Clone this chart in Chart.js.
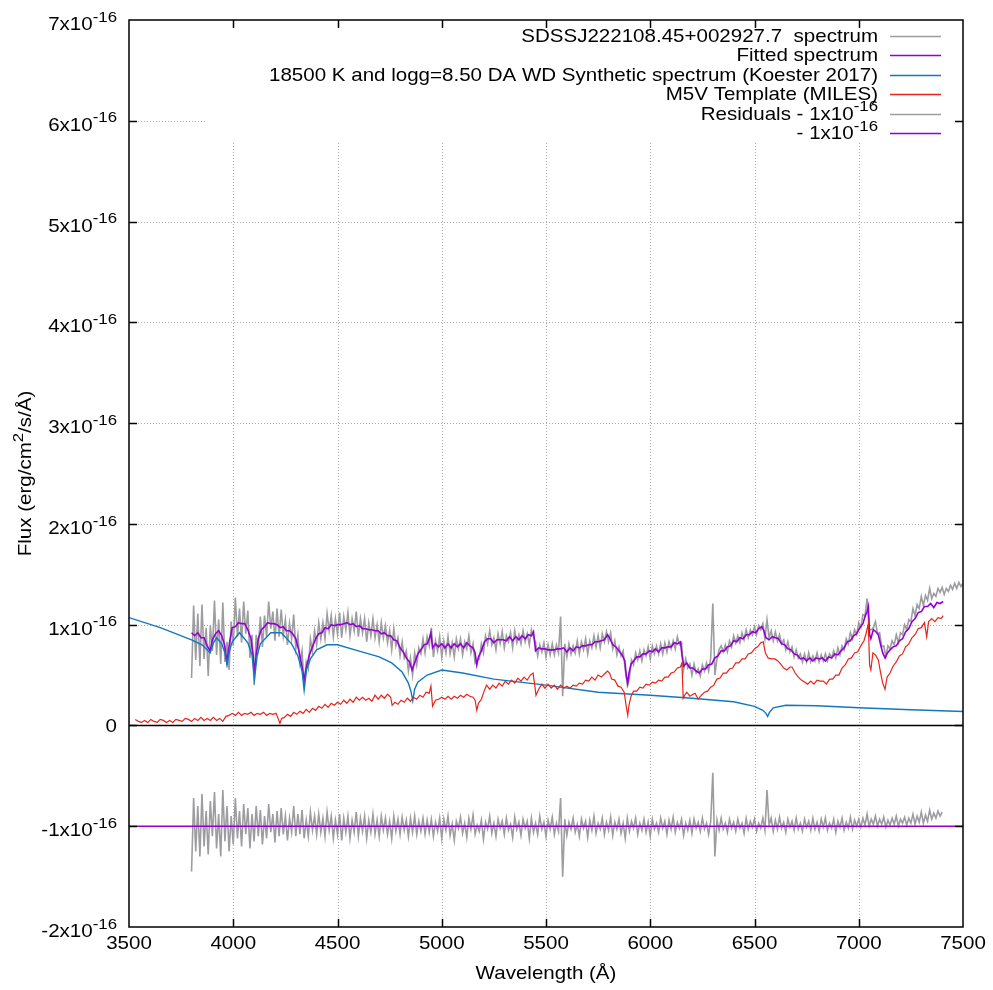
<!DOCTYPE html>
<html>
<head>
<meta charset="utf-8">
<script src="https://cdn.jsdelivr.net/npm/chart.js@4.4.0/dist/chart.umd.min.js"></script>
<style>
  html, body { margin: 0; padding: 0; background: #fff; }
  #wrap { width: 993px; height: 990px; }
</style>
</head>
<body>
<div id="wrap"><canvas id="spec" width="993" height="990"></canvas></div>
<script>
// flux values are in units of 1e-16 erg/cm2/s/A
const xTicks = [3500, 4000, 4500, 5000, 5500, 6000, 6500, 7000, 7500];
const yTicks = [-2, -1, 0, 1, 2, 3, 4, 5, 6, 7];

const legendLabels = [
  [{t: 'SDSSJ222108.45+002927.7  spectrum'}],
  [{t: 'Fitted spectrum'}],
  [{t: '18500 K and logg=8.50 DA WD Synthetic spectrum (Koester 2017)'}],
  [{t: 'M5V Template (MILES)'}],
  [{t: 'Residuals - 1x10'}, {t: '-16', sup: true}],
  [{t: ' - 1x10'}, {t: '-16', sup: true}]
];

// observed spectrum, 3800..7500 A every 10 A
const obsStart = 3800, obsStep = 10;
const obsFlux = [
  0.47,1.19,0.65,1.11,0.59,1.20,0.66,0.97,0.49,0.99,
  0.74,1.24,0.70,1.05,0.61,1.22,0.63,0.83,0.55,1.03,
  0.79,1.27,0.88,1.16,0.82,1.23,0.91,1.14,0.67,0.90,
  0.40,0.90,0.76,1.08,0.78,1.09,0.88,1.23,0.96,1.13,
  0.84,1.16,0.88,1.15,0.89,1.05,0.80,1.01,0.86,1.10,
  0.76,0.90,0.62,0.74,0.38,0.63,0.56,0.86,0.74,0.94,
  0.80,1.02,0.86,1.02,0.86,1.11,0.94,1.09,0.88,1.06,
  0.91,1.12,0.87,1.08,0.95,1.12,0.89,1.06,0.94,1.13,
  0.88,1.06,0.92,1.06,0.83,1.02,0.89,1.06,0.87,1.00,
  0.83,1.02,0.87,0.99,0.82,0.94,0.75,0.96,0.79,0.87,
  0.69,0.83,0.67,0.74,0.54,0.67,0.50,0.72,0.60,0.77,
  0.71,0.86,0.72,0.88,0.79,0.97,0.68,0.84,0.74,0.88,
  0.68,0.84,0.72,0.88,0.71,0.82,0.68,0.86,0.76,0.86,
  0.70,0.83,0.76,0.89,0.72,0.81,0.62,0.65,0.66,0.81,
  0.72,0.89,0.81,0.94,0.80,0.87,0.75,0.91,0.81,0.93,
  0.77,0.89,0.83,0.92,0.77,0.94,0.82,0.90,0.81,0.94,
  0.83,0.91,0.80,0.95,0.88,0.82,0.69,0.80,0.73,0.82,
  0.68,0.80,0.70,0.81,0.70,0.80,0.72,1.08,0.29,0.81,
  0.68,0.81,0.71,0.79,0.72,0.84,0.71,0.83,0.75,0.86,
  0.71,0.84,0.77,0.89,0.78,0.89,0.77,0.91,0.83,0.93,
  0.83,0.92,0.76,0.84,0.70,0.78,0.69,0.74,0.55,0.40,
  0.47,0.65,0.60,0.72,0.65,0.74,0.64,0.75,0.69,0.78,
  0.66,0.79,0.71,0.79,0.71,0.81,0.71,0.82,0.73,0.83,
  0.76,0.84,0.76,0.88,0.80,0.82,0.55,0.66,0.57,0.61,
  0.50,0.61,0.52,0.56,0.49,0.60,0.54,0.62,0.54,0.67,
  1.21,0.50,0.66,0.75,0.79,0.73,0.80,0.73,0.84,0.78,
  0.89,0.82,0.89,0.82,0.92,0.85,0.95,0.87,0.95,0.90,
  0.98,0.90,0.99,0.95,1.01,0.86,1.05,0.87,0.94,0.84,
  0.93,0.84,0.90,0.81,0.85,0.75,0.83,0.73,0.78,0.68,
  0.75,0.67,0.71,0.63,0.71,0.63,0.72,0.63,0.69,0.64,
  0.72,0.63,0.70,0.64,0.71,0.64,0.71,0.67,0.74,0.67,
  0.77,0.70,0.79,0.75,0.86,0.81,0.92,0.86,0.95,0.90,
  1.02,0.97,1.10,1.09,1.26,0.95,0.95,0.97,1.03,0.91,
  0.92,0.78,0.79,0.68,0.79,0.76,0.84,0.80,0.90,0.82,
  0.92,0.90,1.00,0.95,1.05,1.03,1.16,1.09,1.20,1.16,
  1.28,1.19,1.29,1.24,1.36,1.26,1.31,1.28,1.36,1.32,
  1.37,1.30,1.36,1.33,1.39,1.35,1.41,1.36,1.42,1.38,
  1.41
];

// residuals shifted by -1, 3800..7400 A every 10 A
const resStart = 3800, resStep = 10;
const resFlux = [
  -1.45,-0.72,-1.25,-0.80,-1.30,-0.68,-1.20,-0.85,-1.28,-0.75,
  -1.10,-0.66,-1.22,-0.88,-1.30,-0.64,-1.15,-0.80,-1.25,-0.90,
  -1.18,-0.72,-1.12,-0.85,-1.20,-0.78,-1.08,-0.82,-1.22,-0.88,
  -1.15,-0.80,-1.10,-0.84,-1.18,-0.90,-1.12,-0.78,-1.06,-0.88,
  -1.16,-0.85,-1.10,-0.82,-1.08,-0.90,-1.14,-0.92,-1.06,-0.80,
  -1.10,-0.88,-1.08,-0.84,-1.12,-0.94,-1.10,-0.86,-1.04,-0.90,
  -1.08,-0.88,-1.06,-0.92,-1.10,-0.86,-1.04,-0.90,-1.12,-0.94,
  -1.08,-0.88,-1.14,-0.92,-1.06,-0.90,-1.12,-0.94,-1.06,-0.86,
  -1.10,-0.92,-1.05,-0.90,-1.12,-0.94,-1.06,-0.88,-1.08,-0.94,
  -1.10,-0.90,-1.04,-0.92,-1.08,-0.95,-1.12,-0.90,-1.05,-0.93,
  -1.08,-0.91,-1.04,-0.94,-1.10,-0.92,-1.06,-0.90,-1.08,-0.95,
  -1.05,-0.92,-1.08,-0.94,-1.06,-0.93,-1.10,-0.96,-1.05,-0.92,
  -1.12,-0.93,-1.04,-0.90,-1.09,-0.98,-1.14,-0.95,-1.02,-0.91,
  -1.07,-0.97,-1.11,-0.92,-1.03,-0.89,-1.08,-0.99,-1.05,-0.94,
  -1.13,-0.96,-1.03,-0.90,-1.07,-0.97,-1.10,-0.93,-1.02,-0.95,
  -1.08,-0.92,-1.04,-0.98,-1.11,-0.91,-1.03,-0.96,-1.09,-0.93,
  -1.02,-0.95,-1.12,-0.92,-1.06,-0.97,-1.08,-0.90,-1.03,-0.96,
  -1.10,-0.94,-1.03,-0.91,-1.08,-0.97,-1.05,-0.72,-1.50,-0.93,
  -1.09,-0.96,-1.03,-0.92,-1.06,-0.98,-1.10,-0.93,-1.02,-0.95,
  -1.11,-0.94,-1.04,-0.90,-1.07,-0.97,-1.03,-0.92,-1.08,-0.96,
  -1.04,-0.91,-1.09,-0.96,-1.03,-0.93,-1.07,-0.97,-1.12,-0.92,
  -1.05,-0.95,-1.02,-0.92,-1.08,-0.97,-1.04,-0.93,-1.06,-0.96,
  -1.10,-0.93,-1.03,-0.97,-1.06,-0.92,-1.02,-0.95,-1.08,-0.94,
  -1.03,-0.91,-1.06,-0.96,-1.02,-0.93,-1.09,-0.97,-1.04,-0.94,
  -1.07,-0.93,-1.02,-0.96,-1.05,-0.92,-1.03,-0.97,-1.08,-0.95,
  -0.47,-1.30,-0.94,-1.04,-0.92,-1.03,-0.97,-1.06,-0.93,-1.02,
  -0.96,-1.05,-0.93,-1.02,-0.97,-1.07,-0.92,-1.03,-0.95,-1.01,
  -0.93,-1.05,-0.97,-1.02,-0.92,-1.04,-0.64,-0.99,-0.92,-1.05,
  -0.94,-1.03,-0.91,-1.02,-0.96,-1.06,-0.93,-1.01,-0.95,-1.04,
  -0.92,-1.03,-0.97,-1.05,-0.93,-1.01,-0.95,-1.04,-0.92,-1.03,
  -0.96,-1.05,-0.93,-1.01,-0.92,-1.04,-0.97,-1.02,-0.93,-1.06,
  -0.95,-1.01,-0.92,-1.04,-0.96,-1.02,-0.91,-1.03,-0.94,-1.00,
  -0.93,-1.01,-0.92,-0.99,-0.88,-1.00,-0.93,-0.98,-0.90,-1.00,
  -0.93,-0.98,-0.91,-1.01,-0.94,-0.99,-0.92,-0.98,-0.90,-1.00,
  -0.93,-0.97,-0.91,-0.99,-0.92,-0.97,-0.88,-0.98,-0.90,-0.96,
  -0.86,-0.97,-0.89,-0.95,-0.84,-0.93,-0.87,-0.92,-0.85,-0.90,
  -0.86
];

// fitted spectrum (WD + M dwarf)
const fitted = [
  [3800,0.92],[3815,0.89],[3830,0.92],[3845,0.87],[3860,0.87],[3875,0.79],[3889,0.74],[3900,0.85],
  [3915,0.91],[3930,0.94],[3945,0.89],[3958,0.80],[3970,0.63],[3982,0.82],[3995,0.97],[4010,0.98],
  [4025,1.02],[4040,1.01],[4055,1.01],[4070,0.95],[4085,0.86],[4095,0.70],[4102,0.51],[4110,0.70],
  [4120,0.86],[4135,0.95],[4150,0.98],[4165,1.02],[4180,1.01],[4195,1.01],[4210,1.00],[4225,0.97],
  [4240,0.98],[4255,0.94],[4270,0.94],[4285,0.91],[4300,0.86],[4315,0.74],[4330,0.58],[4340,0.45],
  [4350,0.57],[4365,0.70],[4380,0.78],[4395,0.86],[4410,0.91],[4425,0.92],[4440,0.97],[4455,0.96],
  [4470,1.00],[4485,0.99],[4500,1.00],[4515,1.00],[4530,1.01],[4545,1.02],[4560,1.00],[4575,1.01],
  [4590,0.98],[4605,0.99],[4620,0.96],[4635,0.96],[4650,0.95],[4665,0.95],[4680,0.94],[4695,0.94],
  [4710,0.91],[4725,0.92],[4740,0.89],[4755,0.89],[4770,0.85],[4785,0.84],[4800,0.77],[4815,0.73],
  [4830,0.67],[4845,0.63],[4858,0.55],[4870,0.62],[4885,0.71],[4900,0.75],[4915,0.80],[4930,0.81],
  [4940,0.86],[4948,0.92],[4956,0.77],[4970,0.81],[4985,0.78],[5000,0.81],[5015,0.77],[5030,0.81],
  [5045,0.77],[5060,0.81],[5075,0.78],[5090,0.81],[5105,0.77],[5120,0.82],[5135,0.79],[5150,0.77],
  [5160,0.72],[5168,0.60],[5176,0.68],[5190,0.74],[5205,0.83],[5220,0.86],[5235,0.86],[5250,0.82],
  [5265,0.85],[5280,0.85],[5295,0.85],[5310,0.84],[5325,0.88],[5340,0.84],[5355,0.88],[5370,0.85],
  [5385,0.89],[5400,0.86],[5415,0.90],[5430,0.89],[5440,0.93],[5450,0.74],[5465,0.77],[5480,0.76],
  [5495,0.76],[5510,0.75],[5525,0.75],[5540,0.75],[5555,0.76],[5570,0.76],[5585,0.77],[5600,0.73],
  [5615,0.77],[5630,0.74],[5645,0.78],[5660,0.77],[5675,0.79],[5690,0.79],[5705,0.80],[5720,0.80],
  [5735,0.83],[5750,0.83],[5765,0.84],[5780,0.85],[5795,0.90],[5805,0.87],[5820,0.80],[5835,0.78],
  [5850,0.74],[5865,0.70],[5878,0.64],[5885,0.50],[5892,0.42],[5898,0.52],[5908,0.61],[5920,0.64],
  [5935,0.68],[5950,0.68],[5965,0.71],[5980,0.71],[5995,0.74],[6010,0.73],[6025,0.76],[6040,0.73],
  [6055,0.77],[6070,0.77],[6085,0.78],[6100,0.78],[6115,0.82],[6130,0.81],[6145,0.83],[6152,0.70],
  [6160,0.59],[6175,0.62],[6190,0.57],[6205,0.57],[6220,0.54],[6235,0.52],[6250,0.56],[6265,0.56],
  [6280,0.60],[6295,0.61],[6310,0.67],[6325,0.69],[6340,0.74],[6355,0.74],[6370,0.78],[6385,0.79],
  [6400,0.84],[6415,0.83],[6430,0.87],[6445,0.86],[6460,0.90],[6475,0.90],[6490,0.93],[6505,0.92],
  [6520,0.96],[6535,0.98],[6545,0.94],[6555,0.87],[6570,0.85],[6585,0.88],[6600,0.87],[6615,0.86],
  [6630,0.81],[6645,0.80],[6660,0.76],[6675,0.75],[6690,0.71],[6705,0.70],[6720,0.66],[6735,0.67],
  [6750,0.64],[6765,0.67],[6780,0.64],[6795,0.67],[6810,0.66],[6825,0.67],[6840,0.64],[6855,0.68],
  [6870,0.67],[6885,0.71],[6900,0.70],[6915,0.74],[6930,0.77],[6945,0.83],[6960,0.84],[6975,0.89],
  [6990,0.91],[7005,0.97],[7020,1.01],[7030,1.08],[7040,1.13],[7046,1.18],[7052,0.90],[7058,0.86],
  [7070,0.95],[7082,0.93],[7094,0.90],[7105,0.80],[7115,0.72],[7126,0.67],[7138,0.72],[7150,0.75],
  [7165,0.78],[7180,0.79],[7195,0.84],[7210,0.86],[7225,0.93],[7240,0.96],[7255,1.03],[7270,1.06],
  [7285,1.12],[7300,1.13],[7315,1.18],[7330,1.18],[7345,1.21],[7360,1.17],[7375,1.22],[7390,1.21],
  [7405,1.23]
];

// DA white dwarf model (Koester 2017)
const whiteDwarf = [
  [3500,1.07],[3650,0.97],[3800,0.85],[3850,0.80],[3870,0.76],[3889,0.72],[3905,0.82],[3920,0.87],
  [3945,0.81],[3960,0.72],[3970,0.60],[3982,0.74],[3995,0.83],[4030,0.92],[4070,0.82],[4090,0.70],
  [4102,0.46],[4115,0.70],[4130,0.81],[4180,0.92],[4230,0.92],[4280,0.81],[4310,0.69],[4330,0.54],
  [4340,0.35],[4352,0.56],[4370,0.66],[4400,0.75],[4450,0.80],[4500,0.80],[4600,0.74],[4700,0.68],
  [4760,0.62],[4810,0.53],[4840,0.42],[4852,0.34],[4861,0.245],[4870,0.36],[4885,0.43],[4930,0.50],
  [5000,0.55],[5100,0.52],[5250,0.46],[5500,0.40],[5750,0.33],[6000,0.30],[6200,0.27],[6400,0.235],
  [6500,0.19],[6540,0.15],[6555,0.12],[6563,0.09],[6572,0.13],[6590,0.175],[6650,0.20],[6800,0.195],
  [7000,0.175],[7250,0.155],[7500,0.138]
];

// M5V template (MILES)
const mDwarf = [
  [3530,0.06],[3545,0.04],[3560,0.03],[3575,0.05],[3590,0.03],[3605,0.06],[3620,0.04],[3635,0.03],
  [3650,0.06],[3665,0.05],[3680,0.03],[3695,0.05],[3710,0.03],[3725,0.06],[3740,0.05],[3755,0.04],
  [3770,0.07],[3785,0.06],[3800,0.04],[3815,0.07],[3830,0.05],[3845,0.08],[3860,0.05],[3875,0.07],
  [3890,0.05],[3905,0.08],[3920,0.05],[3935,0.07],[3950,0.04],[3965,0.09],[3980,0.10],[3995,0.12],
  [4010,0.10],[4025,0.13],[4040,0.10],[4055,0.12],[4070,0.11],[4085,0.13],[4100,0.10],[4115,0.12],
  [4130,0.11],[4145,0.13],[4160,0.10],[4175,0.12],[4190,0.11],[4205,0.12],[4215,0.07],[4224,0.02],
  [4232,0.07],[4245,0.08],[4260,0.11],[4275,0.09],[4290,0.13],[4305,0.11],[4320,0.14],[4335,0.12],
  [4350,0.16],[4365,0.13],[4380,0.17],[4395,0.15],[4410,0.19],[4425,0.17],[4440,0.21],[4455,0.18],
  [4470,0.22],[4485,0.20],[4500,0.23],[4515,0.21],[4530,0.25],[4545,0.22],[4560,0.26],[4575,0.23],
  [4590,0.28],[4605,0.25],[4620,0.28],[4635,0.25],[4650,0.27],[4665,0.24],[4680,0.30],[4695,0.26],
  [4710,0.30],[4725,0.27],[4740,0.31],[4755,0.28],[4762,0.20],[4775,0.23],[4790,0.21],[4805,0.25],
  [4820,0.23],[4835,0.27],[4850,0.24],[4865,0.28],[4880,0.26],[4895,0.30],[4910,0.28],[4925,0.33],
  [4940,0.32],[4948,0.39],[4956,0.19],[4970,0.25],[4985,0.26],[5000,0.28],[5015,0.26],[5030,0.29],
  [5045,0.26],[5060,0.29],[5075,0.27],[5090,0.30],[5105,0.28],[5120,0.31],[5135,0.29],[5150,0.28],
  [5160,0.25],[5168,0.15],[5176,0.22],[5190,0.26],[5205,0.35],[5215,0.40],[5230,0.36],[5245,0.40],
  [5260,0.37],[5275,0.42],[5290,0.39],[5305,0.44],[5320,0.41],[5335,0.45],[5350,0.42],[5365,0.47],
  [5380,0.44],[5395,0.48],[5410,0.45],[5425,0.50],[5438,0.52],[5446,0.40],[5452,0.30],[5465,0.36],
  [5480,0.41],[5495,0.37],[5510,0.41],[5525,0.37],[5540,0.40],[5555,0.36],[5570,0.40],[5585,0.37],
  [5600,0.39],[5615,0.37],[5630,0.40],[5645,0.39],[5660,0.42],[5675,0.41],[5690,0.45],[5705,0.44],
  [5720,0.48],[5735,0.45],[5750,0.50],[5765,0.48],[5780,0.51],[5795,0.54],[5805,0.52],[5815,0.46],
  [5830,0.45],[5845,0.39],[5860,0.38],[5875,0.33],[5884,0.20],[5892,0.10],[5898,0.20],[5908,0.29],
  [5920,0.34],[5935,0.34],[5950,0.38],[5965,0.37],[5980,0.41],[5995,0.40],[6010,0.43],[6025,0.42],
  [6040,0.45],[6055,0.44],[6070,0.48],[6085,0.48],[6100,0.52],[6115,0.53],[6130,0.57],[6145,0.58],
  [6152,0.62],[6158,0.27],[6165,0.30],[6175,0.33],[6190,0.29],[6205,0.31],[6215,0.32],[6230,0.26],
  [6245,0.30],[6260,0.33],[6275,0.34],[6290,0.38],[6305,0.40],[6320,0.46],[6335,0.47],[6350,0.52],
  [6365,0.52],[6380,0.56],[6395,0.57],[6410,0.62],[6425,0.62],[6440,0.66],[6455,0.66],[6470,0.71],
  [6485,0.72],[6500,0.76],[6515,0.78],[6530,0.82],[6542,0.83],[6552,0.72],[6565,0.67],[6580,0.66],
  [6598,0.66],[6612,0.64],[6625,0.61],[6640,0.57],[6655,0.55],[6670,0.58],[6680,0.58],[6695,0.52],
  [6710,0.48],[6725,0.45],[6740,0.43],[6755,0.41],[6770,0.44],[6785,0.41],[6800,0.45],[6815,0.44],
  [6830,0.44],[6845,0.41],[6860,0.46],[6875,0.46],[6890,0.50],[6905,0.50],[6920,0.57],[6935,0.60],
  [6950,0.66],[6965,0.67],[6980,0.72],[6995,0.73],[7010,0.79],[7025,0.84],[7035,0.91],[7046,1.01],
  [7052,0.60],[7058,0.55],[7068,0.72],[7080,0.70],[7094,0.65],[7105,0.52],[7115,0.42],[7126,0.36],
  [7136,0.48],[7150,0.52],[7165,0.59],[7180,0.63],[7195,0.69],[7210,0.71],[7225,0.78],[7240,0.81],
  [7255,0.87],[7270,0.90],[7285,0.96],[7300,0.97],[7315,1.02],[7326,0.88],[7335,1.03],[7350,1.06],
  [7365,1.03],[7380,1.07],[7395,1.06],[7405,1.09]
];

// zero line of the residual panel
const residualZero = [[3500, -1], [7500, -1]];

const FONT = '"Liberation Sans", Arial, sans-serif';
const FS = 18.5;    // base font size
const SX = 1.11;    // horizontal stretch of the lettering
const KEY = { left: 206, bottom: 142, textRight: 878, lineFrom: 890, lineTo: 941, top: 36, gap: 19.4 };

const GRAY = '#9d9da1', PURPLE = '#9400d3', BLUE = '#1278bd', RED = '#e8231a';

const pts = arr => arr.map(p => ({x: p[0], y: p[1]}));
const grid = (start, step, arr) => arr.map((v, i) => ({x: start + i * step, y: v}));

function richWidth(ctx, parts, size) {
  let w = 0;
  parts.forEach(p => {
    ctx.font = (p.sup ? size * 0.82 : size) + 'px ' + FONT;
    w += ctx.measureText(p.t).width * SX;
  });
  return w;
}

function drawRich(ctx, parts, x, y, align, size) {
  const w = richWidth(ctx, parts, size);
  let cx = align === 'right' ? x - w : align === 'center' ? x - w / 2 : x;
  parts.forEach(p => {
    const fs = p.sup ? size * 0.82 : size;
    ctx.font = fs + 'px ' + FONT;
    const pw = ctx.measureText(p.t).width * SX;
    ctx.save();
    ctx.translate(cx, y - (p.sup ? size * 0.45 : 0));
    ctx.scale(SX, 1);
    ctx.textAlign = 'left'; ctx.textBaseline = 'alphabetic';
    ctx.fillText(p.t, 0, 0);
    ctx.restore();
    cx += pw;
  });
}

const frame = {
  id: 'frame',
  beforeDatasetsDraw(chart) {
    const {ctx, chartArea: a, scales: {x, y}} = chart;
    ctx.save();
    ctx.strokeStyle = '#a9a9a9'; ctx.lineWidth = 1; ctx.setLineDash([1, 2]);
    xTicks.slice(1, -1).forEach(v => {
      const px = Math.round(x.getPixelForValue(v)) + 0.5;
      ctx.beginPath(); ctx.moveTo(px, a.top); ctx.lineTo(px, a.bottom); ctx.stroke();
    });
    yTicks.slice(1, -1).forEach(v => {
      if (v === 0) return;
      const py = Math.round(y.getPixelForValue(v)) + 0.5;
      ctx.beginPath(); ctx.moveTo(a.left, py); ctx.lineTo(a.right, py); ctx.stroke();
    });
    ctx.setLineDash([]);
    // opaque key box
    ctx.fillStyle = '#fff';
    ctx.fillRect(KEY.left, a.top + 1, a.right - KEY.left - 1, KEY.bottom - a.top);
    // zero axis
    const y0 = Math.round(y.getPixelForValue(0)) + 0.5;
    ctx.strokeStyle = '#000'; ctx.lineWidth = 1.5;
    ctx.beginPath(); ctx.moveTo(a.left, y0); ctx.lineTo(a.right, y0); ctx.stroke();
    ctx.restore();
  },
  afterDatasetsDraw(chart) {
    const {ctx, chartArea: a, scales: {x, y}} = chart;
    ctx.save();
    ctx.strokeStyle = '#000'; ctx.lineWidth = 1.5;
    ctx.strokeRect(a.left, a.top, a.right - a.left, a.bottom - a.top);
    const T = 8;
    ctx.beginPath();
    xTicks.slice(1, -1).forEach(v => {
      const px = Math.round(x.getPixelForValue(v)) + 0.5;
      ctx.moveTo(px, a.bottom); ctx.lineTo(px, a.bottom - T);
      ctx.moveTo(px, a.top); ctx.lineTo(px, a.top + T);
    });
    yTicks.slice(1, -1).forEach(v => {
      const py = Math.round(y.getPixelForValue(v)) + 0.5;
      ctx.moveTo(a.left, py); ctx.lineTo(a.left + T, py);
      ctx.moveTo(a.right, py); ctx.lineTo(a.right - T, py);
    });
    ctx.stroke();

    ctx.fillStyle = '#000';
    xTicks.forEach(v => {
      drawRich(ctx, [{t: String(v)}], x.getPixelForValue(v), a.bottom + 22, 'center', FS);
    });
    yTicks.forEach(v => {
      const py = y.getPixelForValue(v);
      if (v === 0) drawRich(ctx, [{t: '0'}], a.left - 12, py + 7, 'right', FS);
      else drawRich(ctx, [{t: v + 'x10'}, {t: '-16', sup: true}], a.left - 12, py + 10, 'right', FS);
    });
    drawRich(ctx, [{t: 'Wavelength (Å)'}], (a.left + a.right) / 2, a.bottom + 52, 'center', FS);
    ctx.save();
    ctx.translate(31, (a.top + a.bottom) / 2);
    ctx.rotate(-Math.PI / 2);
    drawRich(ctx, [{t: 'Flux (erg/cm'}, {t: '2', sup: true}, {t: '/s/Å)'}], 0, 0, 'center', FS);
    ctx.restore();

    // key
    const colors = [GRAY, PURPLE, BLUE, RED, GRAY, PURPLE];
    legendLabels.forEach((parts, i) => {
      const cy = KEY.top + i * KEY.gap;
      ctx.fillStyle = '#000';
      drawRich(ctx, parts, KEY.textRight, cy + 6, 'right', FS);
      ctx.strokeStyle = colors[i]; ctx.lineWidth = 1.5;
      ctx.beginPath(); ctx.moveTo(KEY.lineFrom, Math.round(cy) + 0.5); ctx.lineTo(KEY.lineTo, Math.round(cy) + 0.5); ctx.stroke();
    });
    ctx.restore();
  }
};

const line = (data, color, width, order) => ({
  data, borderColor: color, borderWidth: width, pointRadius: 0, tension: 0, fill: false, order
});

new Chart(document.getElementById('spec'), {
  type: 'line',
  data: {
    datasets: [
      line(grid(obsStart, obsStep, obsFlux), GRAY, 1.6, 6),
      line(pts(fitted), PURPLE, 1.6, 5),
      line(pts(whiteDwarf), BLUE, 1.4, 4),
      line(pts(mDwarf), RED, 1.2, 3),
      line(grid(resStart, resStep, resFlux), GRAY, 1.6, 2),
      line(pts(residualZero), PURPLE, 1.5, 1)
    ]
  },
  options: {
    responsive: false,
    animation: false,
    layout: { padding: { left: 129, top: 20, right: 30, bottom: 63 } },
    plugins: { legend: { display: false }, tooltip: { enabled: false } },
    scales: {
      x: { type: 'linear', min: 3500, max: 7500, display: false },
      y: { type: 'linear', min: -2, max: 7, display: false }
    }
  },
  plugins: [frame]
});
</script>
</body>
</html>
